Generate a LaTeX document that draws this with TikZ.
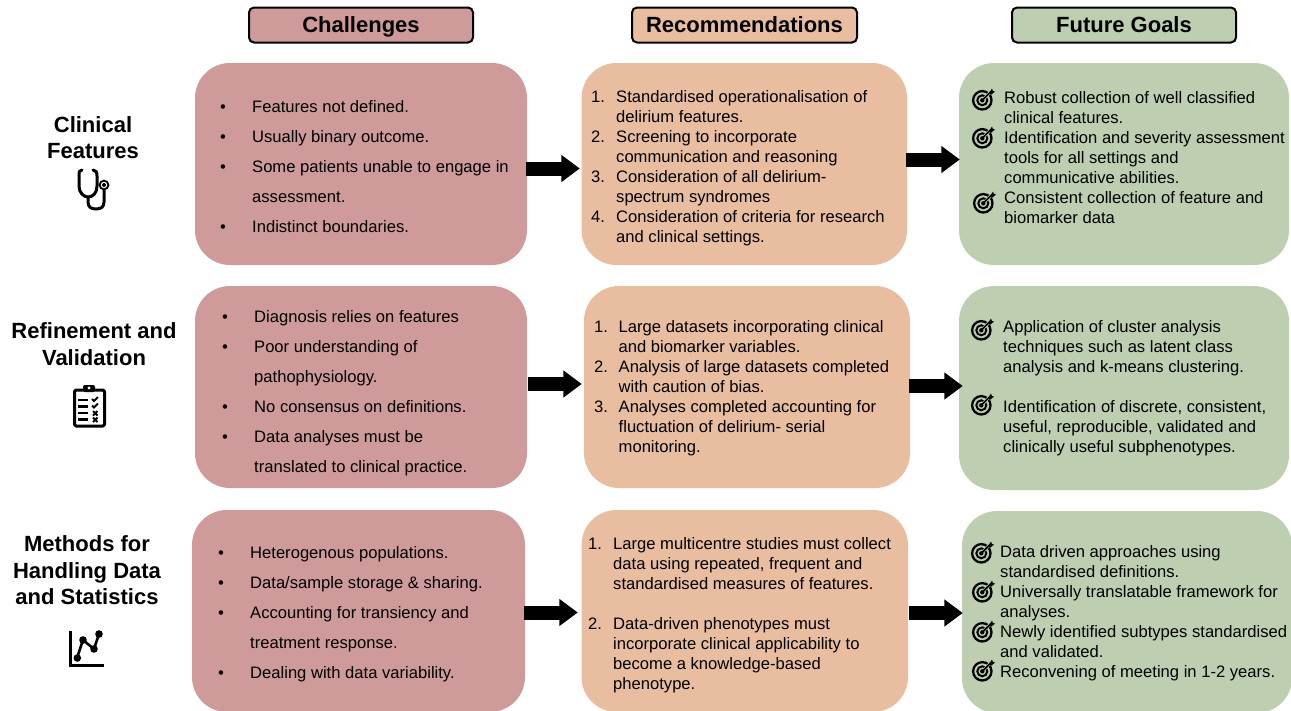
\documentclass[tikz,border=0pt]{standalone}
\usepackage{fontspec}
\setmainfont{Liberation Sans}
\usetikzlibrary{arrows.meta}
\definecolor{cred}{HTML}{CF9B9A}
\definecolor{cpeach}{HTML}{E9BDA0}
\definecolor{cgreen}{HTML}{BDCFB0}
\newcommand{\mk}[1]{\makebox[\mkw][l]{#1}}
\newlength{\mkw}
\newcommand{\panel}[6]{\node[panelbox,fill=#2,minimum width=#5-#3,minimum height=#6-#4] (#1) at ({(#3+#5)/2},{(#4+#6)/2}) {};}
\newcommand{\blk}[5]{\setlength{\mkw}{#4pt}\node[txt] (#1) at (#2,#3) {\strut #5};}
\newcommand{\target}[3]{%
  \begin{scope}[shift={(#2,#3)}]
    \coordinate (#1) at (0,0);
    \draw[line width=2.3pt] (-0.7,-0.7) circle (9.2);
    \draw[line width=2pt] (-0.7,-0.7) circle (5);
    \fill (-0.7,-0.7) circle (2.2);
    \draw[cgreen,line width=3pt] (0.5,-2) -- (9,-10.5);
    \draw[line width=1.6pt] (-0.7,-0.7) -- (7.5,-8.9);
    \fill (6,-8) -- (9,-12.5) -- (9.8,-10.2) -- (12,-9.4) -- (8,-6.2) -- cycle;
  \end{scope}}
\tikzset{
  x=1pt,y=-1pt,
  panelbox/.style={draw=none,rounded corners=35pt,inner sep=0pt},
  headbox/.style={draw=black,line width=2pt,rounded corners=5pt,minimum height=35pt,inner sep=0pt,text height=17.5pt,text depth=2.5pt,font=\bfseries\fontsize{22}{26}\selectfont},
  txt/.style={anchor=north west,inner sep=0pt,align=left,font=\fontsize{16.6}{20}\selectfont},
  rowlabel/.style={align=center,inner sep=0pt,font=\bfseries\fontsize{22}{26.5}\selectfont},
  bigarrow/.style={line width=14pt,-{Triangle[length=18.5pt,width=26pt]},draw=black},
  icon/.style={line width=3pt,line cap=round,line join=round},
}
\begin{document}
\begin{tikzpicture}
\useasboundingbox (0,0) rectangle (1291,710);
% headers
\node[headbox,fill=cred,minimum width=224pt] (h1) at (361,25) {Challenges};
\node[headbox,fill=cpeach,minimum width=225pt] (h2) at (744.5,25) {Recommendations};
\node[headbox,fill=cgreen,minimum width=224pt] (h3) at (1124,25) {Future Goals};
% panels
\panel{a1}{cred}{195}{63}{527}{265}
\panel{b1}{cpeach}{581.5}{63}{907}{265}
\panel{c1}{cgreen}{959}{63}{1289}{265}
\panel{a2}{cred}{195}{286}{527}{488}
\panel{b2}{cpeach}{584}{286}{910}{488}
\panel{c2}{cgreen}{959}{286}{1289}{490}
\panel{a3}{cred}{192}{510}{525}{712}
\panel{b3}{cpeach}{581.5}{510}{908}{712}
\panel{c3}{cgreen}{962}{511}{1292}{713}
% arrows
\draw[bigarrow] ([xshift=-1pt,yshift=-4.5pt]a1.east) -- ([xshift=-1.5pt,yshift=-4.5pt]b1.west);
\draw[bigarrow] ([xshift=-1pt,yshift=4.5pt]b1.east) -- ([xshift=1pt,yshift=4.5pt]c1.west);
\draw[bigarrow] ([xshift=1pt,yshift=3pt]a2.east) -- ([xshift=-2pt,yshift=3pt]b2.west);
\draw[bigarrow] ([xshift=-1pt,yshift=1pt]b2.east) -- ([xshift=4pt,yshift=2pt]c2.west);
\draw[bigarrow] ([xshift=-1pt,yshift=-1.5pt]a3.east) -- ([xshift=-3.5pt,yshift=-1.5pt]b3.west);
\draw[bigarrow] ([xshift=1pt,yshift=-2pt]b3.east) -- ([xshift=1pt,yshift=-1pt]c3.west);
% row labels
\node[rowlabel] (r1) at (93,137.5) {Clinical\\Features};
\node[rowlabel] (r2) at (94,344) {Refinement and\\Validation};
\node[rowlabel] (r3) at (87,570.5) {Methods for\\Handling Data\\and Statistics};
% challenge text
\blk{ta1}{220}{98}{32}{\mk{•}Features not defined.\\[10pt]\mk{•}Usually binary outcome.\\[10pt]\mk{•}Some patients unable to engage in\\[10pt]\mk{}assessment.\\[10pt]\mk{•}Indistinct boundaries.}
\blk{ta2}{222}{308}{32}{\mk{•}Diagnosis relies on features\\[10pt]\mk{•}Poor understanding of\\[10pt]\mk{}pathophysiology.\\[10pt]\mk{•}No consensus on definitions.\\[10pt]\mk{•}Data analyses must be\\[10pt]\mk{}translated to clinical practice.}
\blk{ta3}{218}{544}{32}{\mk{•}Heterogenous populations.\\[10pt]\mk{•}Data/sample storage \& sharing.\\[10pt]\mk{•}Accounting for transiency and\\[10pt]\mk{}treatment response.\\[10pt]\mk{•}Dealing with data variability.}
% recommendations
\blk{tb1}{591}{88}{25}{\mk{1.}Standardised operationalisation of\\\mk{}delirium features.\\\mk{2.}Screening to incorporate\\\mk{}communication and reasoning\\\mk{3.}Consideration of all delirium-\\\mk{}spectrum syndromes\\\mk{4.}Consideration of criteria for research\\\mk{}and clinical settings.}
\blk{tb2}{594}{318}{24.5}{\mk{1.}Large datasets incorporating clinical\\\mk{}and biomarker variables.\\\mk{2.}Analysis of large datasets completed\\\mk{}with caution of bias.\\\mk{3.}Analyses completed accounting for\\\mk{}fluctuation of delirium- serial\\\mk{}monitoring.}
\blk{tb3}{588}{535}{25}{\mk{1.}Large multicentre studies must collect\\\mk{}data using repeated, frequent and\\\mk{}standardised measures of features.\\[20pt]\mk{2.}Data-driven phenotypes must\\\mk{}incorporate clinical applicability to\\\mk{}become a knowledge-based\\\mk{}phenotype.}
% goals
\blk{tc1}{1004}{89}{0}{Robust collection of well classified\\clinical features.\\Identification and severity assessment\\tools for all settings and\\communicative abilities.\\Consistent collection of feature and\\biomarker data}
\blk{tc2}{1003}{318}{0}{Application of cluster analysis\\techniques such as latent class\\analysis and k-means clustering.\\[20pt]Identification of discrete, consistent,\\useful, reproducible, validated and\\clinically useful subphenotypes.}
\blk{tc3}{1000}{543}{0}{Data driven approaches using\\standardised definitions.\\Universally translatable framework for\\analyses.\\Newly identified subtypes standardised\\and validated.\\Reconvening of meeting in 1-2 years.}
% target icons
\target{g1}{983}{101}\target{g2}{983}{139}\target{g3}{984}{204}
\target{g4}{982}{331}\target{g5}{982}{406}
\target{g6}{982}{554}\target{g7}{983}{593}\target{g8}{983}{633}\target{g9}{983}{672}
% stethoscope
\draw[icon] (82,170) .. controls (79,170) and (79,172) .. (79,176) -- (79,186) .. controls (79,193) and (84,197) .. (88,197) .. controls (93,197) and (97,193) .. (97,186) -- (97,176) .. controls (97,172) and (96,170) .. (93,170);
\draw[icon] (88,197) -- (88,202) .. controls (88,207) and (91,209) .. (96,209) .. controls (101,209) and (104,207) .. (104,202) -- (104,190);
\draw[line width=1.8pt] (104,185) circle (4.4);
\fill (104,185) circle (2);
% clipboard
\draw[line width=3pt,line join=round,rounded corners=1.5pt] (74.5,390) rectangle (104.5,426);
\fill[rounded corners=2pt] (83,385) rectangle (95,392);
\fill[white] (89,388) circle (1.6);
\foreach \yy in {400,406.5,413,419.5} \fill (78,\yy-1.4) rectangle (88,\yy+1.4);
\draw[line width=1.8pt] (92,399) -- (94,401) -- (98,397);
\draw[line width=1.8pt] (92,405.5) -- (94,407.5) -- (98,403.5);
\draw[line width=2pt] (93,411) -- (97.5,415.5) (97.5,411) -- (93,415.5);
\draw[line width=2pt] (93,417.5) -- (97.5,422) (97.5,417.5) -- (93,422);
% chart
\draw[line width=3pt] (70,631) -- (70,665) -- (103.5,665);
\draw[line width=2.6pt] (77,658) -- (83,640) -- (94,649) -- (99,634);
\fill (77.3,658) circle (3.8) (83,640) circle (3.8) (94,649) circle (3.8) (99,634) circle (3.8);
\end{tikzpicture}
\end{document}
